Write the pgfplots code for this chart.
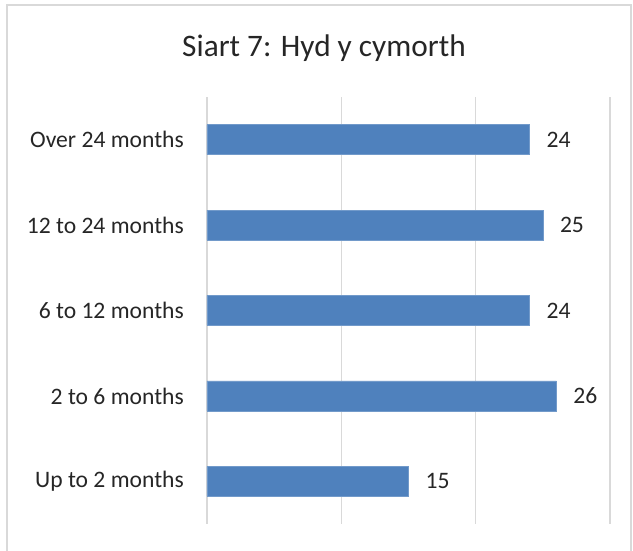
\documentclass[border=0pt]{standalone}
\usepackage{pgfplots}
\pgfplotsset{compat=1.18}
\usepackage{fontspec}
\setmainfont{Carlito}
\definecolor{barblue}{HTML}{4F81BD}
\definecolor{gridgray}{HTML}{D9D9D9}
\begin{document}
\begin{tikzpicture}
\useasboundingbox (0pt,0pt) rectangle (633pt,551pt);
\draw[gridgray, line width=1.5pt] (7pt,-5pt) -- (7pt,546pt) -- (631pt,546pt) -- (631pt,-5pt);
\node[anchor=base, font=\fontsize{31.3}{36}\selectfont, text=black!85, inner sep=0pt] at (324pt,494pt) {Siart 7: Hyd y cymorth};
\begin{axis}[
  at={(207pt,27pt)}, anchor=south west,
  scale only axis, width=403pt, height=427pt,
  xbar, bar width=30pt,
  xmin=0, xmax=30, ymin=0.5, ymax=5.5,
  enlargelimits=false,
  axis line style={draw=none},
  xtick={0,10,20,30}, xticklabel=\empty,
  xmajorgrids, grid style={gridgray, line width=1.5pt},
  major tick length=0pt,
  ytick={1,2,3,4,5},
  yticklabels={Up to 2 months, 2 to 6 months, 6 to 12 months, 12 to 24 months, Over 24 months},
  yticklabel style={font=\fontsize{23.6}{28}\selectfont, text=black!85, anchor=east, inner sep=0pt, xshift=-23pt},
  /pgf/number format/assume math mode=true,
  nodes near coords,
  every node near coord/.append style={font=\fontsize{23.6}{28}\selectfont, text=black!85, anchor=west, inner sep=0pt, xshift=17pt},
]
\addplot[fill=barblue, draw=barblue!80!white] coordinates {(15,1) (26,2) (24,3) (25,4) (24,5)};
\end{axis}
\end{tikzpicture}
\end{document}
